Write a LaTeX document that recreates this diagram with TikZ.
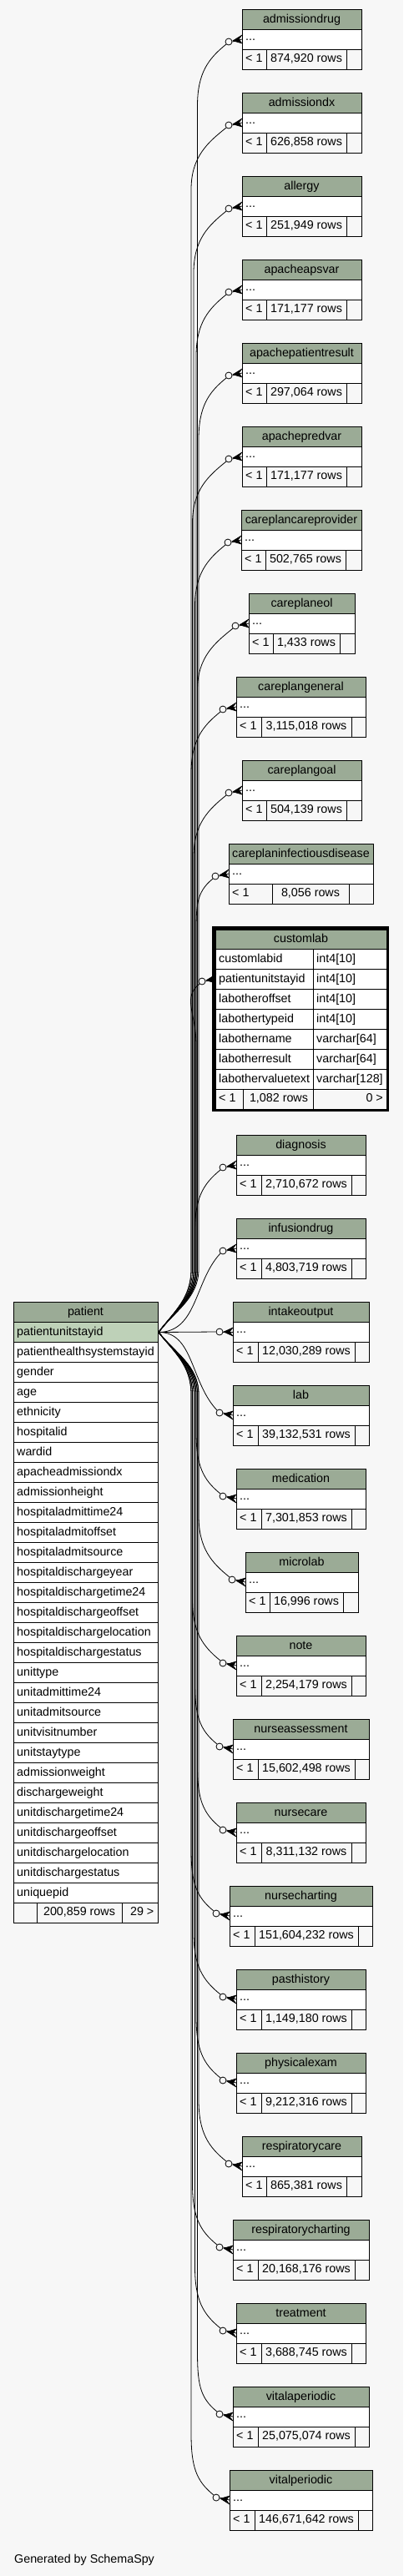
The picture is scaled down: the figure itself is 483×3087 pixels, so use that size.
\documentclass[tikz,border=0pt]{standalone}
\usepackage{fontspec}
\setmainfont{Liberation Sans}
\usetikzlibrary{calc}
\definecolor{hdrc}{HTML}{9BAB96}
\definecolor{pkc}{HTML}{BED1B8}
\definecolor{bgc}{HTML}{F7F7F7}
\tikzset{
 txt/.style={inner sep=0pt, anchor=base, font=\fontsize{14.3}{17}\selectfont, text=black},
 hdr/.style={draw=black, fill=hdrc, line width=1pt},
 cellw/.style={draw=black, fill=white, line width=1pt},
 cellf/.style={draw=black, fill=bgc, line width=1pt},
 rel/.style={draw=black, line width=0.8pt},
 odot/.style={circle, draw=black, fill=bgc, line width=0.8pt, minimum size=8pt, inner sep=0pt},
 crowst/.style={draw=black, fill=black, line width=0.6pt, line join=miter},
}
\newcommand\erlink[3]{%
\pgfmathsetmacro\df{1596-(#3)}%
\pgfmathsetmacro\ad{abs(\df)}%
\pgfmathsetmacro\s{\df>0?1:-1}%
\pgfmathsetmacro\oy{\ad<10?0:3*(\s)}%
\pgfmathsetmacro\cy{#3+\oy}%
\pgfmathsetmacro\jx{229+mod(#3,7)*1.5}%
\pgfmathsetmacro\aY{1596-(\s)*25}%
\pgfmathsetmacro\bY{1596-(\s)*40}%
\pgfmathsetmacro\cY{1596-(\s)*75}%
\pgfmathsetmacro\dY{#3+(\s)*80}%
\pgfmathsetmacro\eY{#3+(\s)*40}%
\pgfmathsetmacro\fY{\cy+(\s)*20}%
\pgfmathsetmacro\gY{#3+(\s)*0.4*\ad}%
\pgfmathsetmacro\apY{#3+0.6*\oy}%
\ifdim\df pt>0pt \def\anc{south west}\else\def\anc{north west}\fi
\node[odot] (#1o) at (#2-16,\cy) {};
\filldraw[crowst] (#2-11,\apY) -- (#2,#3-5) -- (#2-4,#3) -- (#2,#3+5) -- cycle;
\draw[rel] (#1o.east) -- (#2,#3);
\ifdim\ad pt<10pt
 \draw[rel] (pk.east) -- (#1o.west);
\else\ifdim\ad pt<150pt
 \draw[rel] (pk.east) .. controls (\jx,1596) and (\jx-4,\gY) .. (#1o.\anc);
\else
 \draw[rel] (pk.east) .. controls (209,\aY) and (\jx,\bY) .. (\jx,\cY) -- (\jx,\dY) .. controls (\jx,\eY) and (#2-40,\fY) .. (#1o.\anc);
\fi\fi
}
% id, name, top, xl, xr, d1, d2, rows
\newcommand\ertable[8]{%
\pgfmathsetmacro\tA{#3+24}%
\pgfmathsetmacro\tB{#3+48}%
\pgfmathsetmacro\tC{#3+72}%
\pgfmathsetmacro\xm{(#4+#5)/2}%
\pgfmathsetmacro\mm{(#6+#7)/2}%
\pgfmathsetmacro\yy{#3+36}%
\draw[hdr] (#4,#3) rectangle (#5,\tA);
\node[txt] (#1h) at (\xm,#3+16) {#2};
\draw[cellw] (#4,\tA) rectangle (#5,\tB);
\node[txt,anchor=base west] (#1d) at (#4+4,#3+37.5) {...};
\draw[cellf] (#4,\tB) rectangle (#6,\tC);
\draw[cellf] (#6,\tB) rectangle (#7,\tC);
\draw[cellf] (#7,\tB) rectangle (#5,\tC);
\node[txt,anchor=base west] (#1l) at (#4+4,#3+63.5) {< 1};
\node[txt] (#1n) at (\mm,#3+63.5) {#8};
\erlink{#1}{#4}{\yy}%
}
\begin{document}
\begin{tikzpicture}[x=1pt,y=-1pt]
\path[fill=bgc] (0,0) rectangle (483,3087);
\useasboundingbox (0,0) rectangle (483,3087);
% patient table
\draw[hdr] (16,1560) rectangle (189,1584);
\node[txt] (ph) at (102.5,1576) {patient};
\node[draw=black, fill=pkc, line width=1pt, minimum width=173pt, minimum height=24pt, inner sep=0pt, anchor=north west] (pk) at (16,1584) {};
\node[txt,anchor=base west] (pkt) at (20,1600) {patientunitstayid};
\foreach \nm [count=\i] in {patienthealthsystemstayid, gender, age, ethnicity, hospitalid, wardid, apacheadmissiondx, admissionheight, hospitaladmittime24, hospitaladmitoffset, hospitaladmitsource, hospitaldischargeyear, hospitaldischargetime24, hospitaldischargeoffset, hospitaldischargelocation, hospitaldischargestatus, unittype, unitadmittime24, unitadmitsource, unitvisitnumber, unitstaytype, admissionweight, dischargeweight, unitdischargetime24, unitdischargeoffset, unitdischargelocation, unitdischargestatus, uniquepid}{
 \pgfmathsetmacro\ty{1584+\i*24}
 \draw[cellw] (16,\ty) rectangle (189,\ty+24);
 \node[txt,anchor=base west] (pr\i) at (20,\ty+16) {\nm};
}
\draw[cellf] (16,2280) rectangle (44,2304);
\draw[cellf] (44,2280) rectangle (146,2304);
\draw[cellf] (146,2280) rectangle (189,2304);
\node[txt] (pfn) at (95,2295.5) {200,859 rows};
\node[txt,anchor=base east] (pfc) at (184.5,2295.5) {29 >};
% child tables
\ertable{t0}{admissiondrug}{11}{290}{433}{319}{415}{874,920 rows}
\ertable{t1}{admissiondx}{111}{290}{433}{319}{415}{626,858 rows}
\ertable{t2}{allergy}{211}{290}{433}{319}{415}{251,949 rows}
\ertable{t3}{apacheapsvar}{311}{290}{433}{319}{415}{171,177 rows}
\ertable{t4}{apachepatientresult}{411}{290}{433}{319}{415}{297,064 rows}
\ertable{t5}{apachepredvar}{511}{290}{433}{319}{415}{171,177 rows}
\ertable{t6}{careplancareprovider}{611}{289}{433}{318}{414}{502,765 rows}
\ertable{t7}{careplaneol}{711}{298}{425}{327}{407}{1,433 rows}
\ertable{t8}{careplangeneral}{811}{283}{438}{313}{421}{3,115,018 rows}
\ertable{t9}{careplangoal}{911}{290}{433}{319}{415}{504,139 rows}
\ertable{t10}{careplaninfectiousdisease}{1011}{274}{447}{326}{418}{8,056 rows}
\ertable{t12}{diagnosis}{1360}{283}{438}{313}{421}{2,710,672 rows}
\ertable{t13}{infusiondrug}{1460}{283}{438}{313}{421}{4,803,719 rows}
\ertable{t14}{intakeoutput}{1560}{279}{442}{309}{425}{12,030,289 rows}
\ertable{t15}{lab}{1660}{279}{442}{309}{425}{39,132,531 rows}
\ertable{t16}{medication}{1760}{283}{438}{313}{421}{7,301,853 rows}
\ertable{t17}{microlab}{1860}{294}{429}{323}{411}{16,996 rows}
\ertable{t18}{note}{1960}{283}{438}{313}{421}{2,254,179 rows}
\ertable{t19}{nurseassessment}{2060}{279}{442}{309}{425}{15,602,498 rows}
\ertable{t20}{nursecare}{2160}{283}{438}{313}{421}{8,311,132 rows}
\ertable{t21}{nursecharting}{2260}{275}{446}{305}{429}{151,604,232 rows}
\ertable{t22}{pasthistory}{2360}{283}{438}{313}{421}{1,149,180 rows}
\ertable{t23}{physicalexam}{2460}{283}{438}{313}{421}{9,212,316 rows}
\ertable{t24}{respiratorycare}{2560}{290}{433}{319}{415}{865,381 rows}
\ertable{t25}{respiratorycharting}{2660}{279}{442}{309}{425}{20,168,176 rows}
\ertable{t26}{treatment}{2760}{283}{438}{313}{421}{3,688,745 rows}
\ertable{t27}{vitalaperiodic}{2860}{279}{442}{309}{425}{25,075,074 rows}
\ertable{t28}{vitalperiodic}{2960}{275}{446}{305}{429}{146,671,642 rows}
% customlab
\draw[hdr] (258,1114) rectangle (463,1137);
\node[txt] (clh) at (360.5,1129.5) {customlab};
\foreach \a/\b [count=\i from 0] in {customlabid/int4[10], patientunitstayid/int4[10], labotheroffset/int4[10], labothertypeid/int4[10], labothername/varchar[64], labotherresult/varchar[64], labothervaluetext/varchar[128]}{
 \pgfmathsetmacro\ty{1137+\i*24}
 \draw[cellw] (258,\ty) rectangle (375,\ty+24);
 \draw[cellw] (375,\ty) rectangle (463,\ty+24);
 \node[txt,anchor=base west] (cla\i) at (262,\ty+16) {\a};
 \node[txt,anchor=base west] (clb\i) at (379,\ty+16) {\b};
}
\draw[cellf] (258,1305) rectangle (291,1329);
\draw[cellf] (291,1305) rectangle (375,1329);
\draw[cellf] (375,1305) rectangle (463,1329);
\node[txt,anchor=base west] (cll) at (262,1320.5) {< 1};
\node[txt] (cln) at (334,1320.5) {1,082 rows};
\node[txt,anchor=base east] (clc) at (459,1320.5) {0 >};
\draw[line width=3.5pt] (256,1112) rectangle (464.5,1330.5);
\erlink{cl}{258}{1173}
\node[txt,anchor=base west] (gen) at (17,3071) {Generated by SchemaSpy};
\end{tikzpicture}
\end{document}
